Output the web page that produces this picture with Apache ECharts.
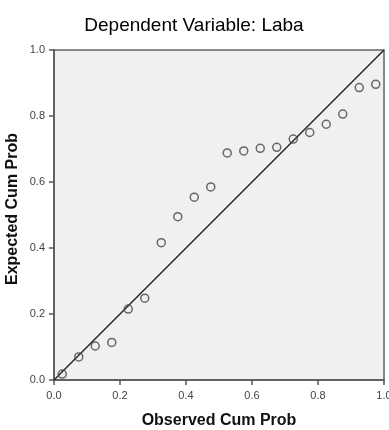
<!DOCTYPE html>
<html><head><meta charset="utf-8">
<script src="https://cdn.jsdelivr.net/npm/echarts@6/dist/echarts.min.js"></script>
<style>html,body{margin:0;padding:0;background:#fff}#c{width:389px;height:430px}</style>
</head><body><div id="c"></div>
<script>
var observed = [0.025,0.075,0.125,0.175,0.225,0.275,0.325,0.375,0.425,0.475,0.525,0.575,0.625,0.675,0.725,0.775,0.825,0.875,0.925,0.975];
var expected = [0.018,0.070,0.103,0.114,0.215,0.248,0.416,0.495,0.554,0.585,0.688,0.694,0.702,0.705,0.730,0.750,0.775,0.806,0.886,0.896];
var refLine = [[0,0],[1,1]];
var title = 'Dependent Variable: Laba';
var xName = 'Observed Cum Prob';
var yName = 'Expected Cum Prob';

var pts = observed.map(function(x,i){return [x, expected[i]];});
var font = 'Liberation Sans, Arial, sans-serif';
var chart = echarts.init(document.getElementById('c'), null, {renderer:'canvas'});
chart.setOption({
  animation:false,
  title:{text:title,left:189,top:11,textAlign:'center',textStyle:{fontFamily:font,fontSize:19,fontWeight:'normal',color:'#000'}},
  grid:{left:54,top:50,width:330,height:330,show:true,backgroundColor:'#f0f0f0',borderColor:'#666',borderWidth:1.5,outerBoundsMode:'none',containLabel:false},
  xAxis:{type:'value',min:0,max:1,interval:0.2,
    name:xName,nameLocation:'middle',nameGap:33,nameMoveOverlap:false,
    nameTextStyle:{fontFamily:font,fontSize:16,fontWeight:'bold',color:'#111',verticalAlign:'top'},
    axisLine:{show:true,lineStyle:{color:'#555',width:1.5}},
    axisTick:{show:true,length:5,lineStyle:{color:'#555',width:1.5}},
    axisLabel:{fontFamily:font,fontSize:11,color:'#444',margin:10,formatter:function(v){return v.toFixed(1);}},
    splitLine:{show:false}},
  yAxis:{type:'value',min:0,max:1,interval:0.2,
    name:yName,nameLocation:'middle',nameGap:33,nameMoveOverlap:false,
    nameTextStyle:{fontFamily:font,fontSize:16,fontWeight:'bold',color:'#111',padding:[0,0,0,12]},
    axisLine:{show:true,lineStyle:{color:'#555',width:1.5}},
    axisTick:{show:true,length:5,lineStyle:{color:'#555',width:1.5}},
    axisLabel:{fontFamily:font,fontSize:11,color:'#444',margin:9,formatter:function(v){return v.toFixed(1);}},
    splitLine:{show:false}},
  series:[
    {type:'line',data:refLine,symbol:'none',lineStyle:{color:'#222',width:1.5},silent:true,z:2},
    {type:'scatter',data:pts,symbol:'circle',symbolSize:8,
      itemStyle:{color:'rgba(0,0,0,0)',borderColor:'#444',borderWidth:1.5},z:3}
  ]
});
</script></body></html>
